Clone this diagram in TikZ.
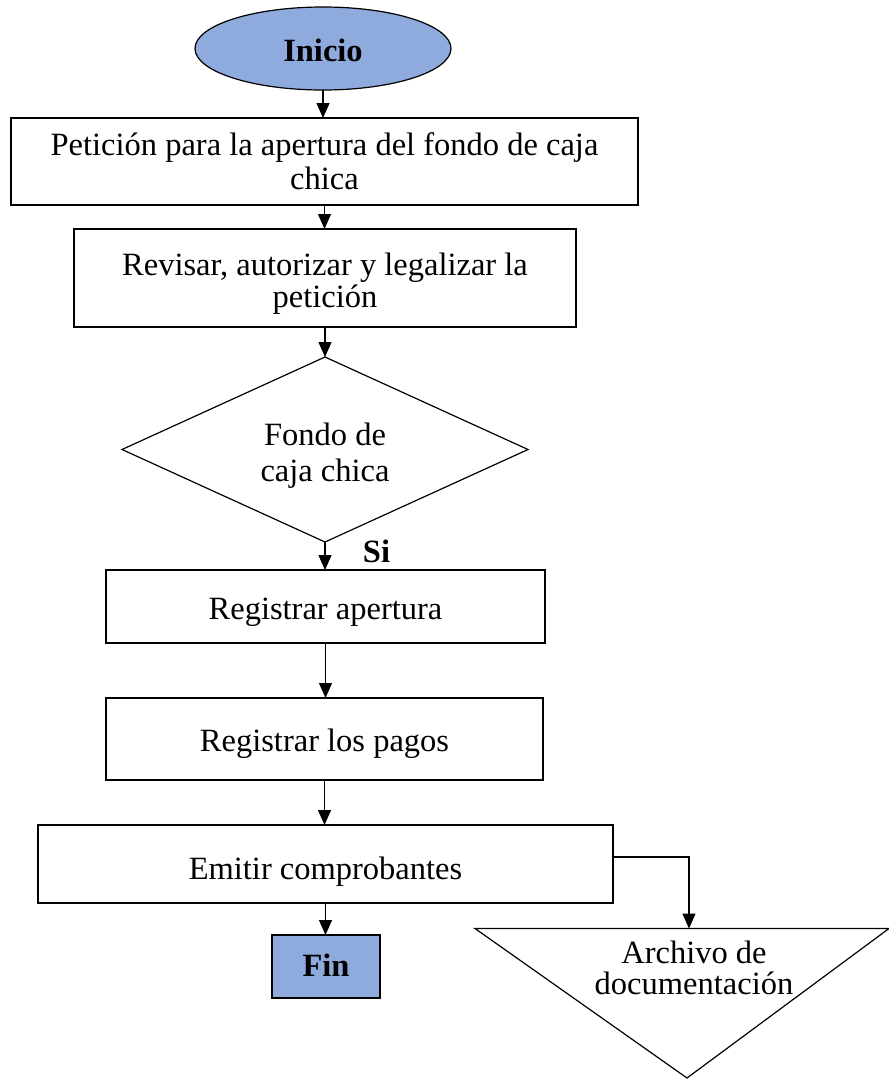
\documentclass[tikz,border=0pt]{standalone}
\usepackage{fontspec}
\setmainfont{Liberation Serif}
\usetikzlibrary{shapes.geometric,arrows.meta}
\definecolor{accentblue}{RGB}{143,170,220}
% centred block of lines, set with a given line spacing and lowered by a given amount
\newcommand\flowtext[3]{{\fontsize{32.5}{#1}\selectfont
  \raisebox{-#2}[\height][\depth]{\begin{tabular}{@{}c@{}}#3\end{tabular}}}}
\begin{document}
\begin{tikzpicture}[x=1pt,y=-1pt,
  every node/.style={inner sep=0pt, outer sep=0pt},
  procbox/.style={draw, line width=1.2pt, rectangle},
  flowarrow/.style={draw, line width=1.2pt, -{Triangle[width=13pt,length=15pt]}}
]
\useasboundingbox (0,0) rectangle (889,1080);

% start and process steps
\node[draw, line width=1.2pt, ellipse, fill=accentblue, minimum width=256pt, minimum height=83pt] (ini) at (323,48.5)
  {\flowtext{38pt}{4.9pt}{\bfseries Inicio}};
\node[procbox, minimum width=627pt, minimum height=87pt] (b1) at (324.5,161.5)
  {\flowtext{34pt}{4.4pt}{Petición para la apertura del fondo de caja\\chica}};
\node[procbox, minimum width=502pt, minimum height=98pt] (b2) at (325,278)
  {\flowtext{31pt}{7.3pt}{Revisar, autorizar y legalizar la\\petición}};
\node[draw, line width=1.2pt, diamond, aspect=2.19, minimum width=406pt, minimum height=185pt] (dia) at (325,449.5)
  {\flowtext{35.3pt}{6.8pt}{Fondo de\\caja chica}};
\node[procbox, minimum width=439pt, minimum height=73pt] (b3) at (325.5,606.5)
  {\flowtext{38pt}{5.2pt}{Registrar apertura}};
\node[procbox, minimum width=437pt, minimum height=82pt] (b4) at (324.5,739)
  {\flowtext{38pt}{5.2pt}{Registrar los pagos}};
\node[procbox, minimum width=575pt, minimum height=78pt] (b5) at (325.5,864)
  {\flowtext{38pt}{7.7pt}{Emitir comprobantes}};
\node[procbox, fill=accentblue, minimum width=108pt, minimum height=63pt] (fin) at (326,966.5)
  {\flowtext{38pt}{2.6pt}{\bfseries Fin}};

% document archive (inverted triangle)
\draw[line width=1.2pt] (475,928.5) -- (889,928.5) -- (687,1078) -- cycle;
\coordinate (archtop) at (689,928.5);
\node (arch) at (694,971.8) {\flowtext{28.4pt}{0pt}{Archivo de\\documentación}};

% decision label
\node[anchor=base, font=\fontsize{32.5}{38}\selectfont\bfseries] (si) at (376.5,562.7) {Si};

% connectors
\draw[flowarrow] (ini.south) -- (ini.south |- b1.north);
\draw[flowarrow] (b1.south) -- (b1.south |- b2.north);
\draw[flowarrow] (b2.south) -- (b2.south |- dia.north);
\draw[flowarrow] (dia.south) -- (dia.south |- b3.north);
\draw[flowarrow] (b3.south) -- (b3.south |- b4.north);
\draw[flowarrow] (b4.south) -- (b4.south |- b5.north);
\draw[flowarrow] (b5.south) -- (b5.south |- fin.north);
\draw[flowarrow] ([yshift=7pt]b5.east) -| (archtop);
\end{tikzpicture}
\end{document}
